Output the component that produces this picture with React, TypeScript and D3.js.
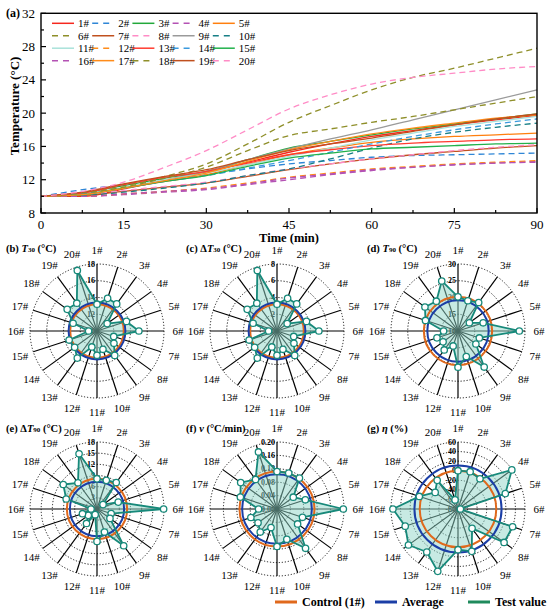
import React from "react";
import * as d3 from "d3";

// time axis of panel (a), minutes
const times = [0, 7.5, 15, 22.5, 30, 37.5, 45, 52.5, 60, 67.5, 75, 82.5, 90];

// temperature curves (°C), one per sample
const s1 = [10.0, 10.0, 10.9, 11.9, 12.9, 14.1, 15.3, 16.3, 17.2, 17.9, 18.6, 19.2, 19.7];
const s2 = [10.0, 10.8, 11.4, 12.0, 12.6, 13.3, 13.9, 14.3, 14.7, 14.9, 15.0, 15.1, 15.2];
const s3 = [10.0, 10.4, 11.3, 12.2, 13.0, 14.4, 15.8, 16.6, 17.4, 18.1, 18.7, 19.3, 19.9];
const s4 = [10.0, 10.0, 10.2, 10.5, 10.8, 11.4, 12.0, 12.6, 13.1, 13.5, 13.8, 14.0, 14.2];
const s5 = [10.0, 10.3, 11.0, 11.8, 12.6, 13.8, 15.0, 15.8, 16.5, 16.9, 17.2, 17.4, 17.6];
const s6 = [10.0, 10.4, 11.2, 12.4, 13.9, 16.3, 18.9, 20.9, 22.8, 24.3, 25.4, 26.6, 27.8];
const s7 = [10.0, 10.1, 10.6, 11.1, 11.6, 12.4, 13.2, 13.9, 14.5, 15.0, 15.4, 15.8, 16.1];
const s8 = [10.0, 10.2, 10.7, 11.2, 11.7, 12.5, 13.3, 13.9, 14.5, 15.0, 15.5, 15.9, 16.2];
const s9 = [10.0, 10.3, 11.0, 12.0, 13.0, 14.4, 15.7, 16.9, 18.0, 19.2, 20.4, 21.6, 22.8];
const s10 = [10.0, 10.1, 10.5, 11.0, 11.6, 12.5, 13.3, 14.5, 15.8, 16.9, 17.7, 18.3, 18.8];
const s11 = [10.0, 10.3, 11.1, 12.0, 12.8, 13.8, 14.8, 15.8, 16.8, 17.6, 18.4, 19.0, 19.6];
const s12 = [10.0, 10.0, 10.3, 10.6, 11.0, 11.6, 12.3, 12.8, 13.3, 13.6, 13.9, 14.1, 14.3];
const s13 = [10.0, 10.4, 11.4, 12.3, 13.0, 14.0, 15.0, 15.6, 16.1, 16.4, 16.6, 16.8, 16.9];
const s14 = [10.0, 10.3, 11.0, 11.8, 12.5, 13.4, 14.3, 15.3, 16.3, 17.2, 18.0, 18.7, 19.3];
const s15 = [10.0, 10.2, 11.0, 11.8, 12.5, 13.6, 14.6, 15.2, 15.7, 15.9, 16.1, 16.3, 16.4];
const s16 = [10.0, 10.0, 10.3, 10.6, 10.9, 11.5, 12.2, 12.7, 13.2, 13.5, 13.8, 14.0, 14.1];
const s17 = [10.0, 10.2, 11.0, 11.9, 12.8, 14.2, 15.6, 16.6, 17.5, 18.2, 18.8, 19.4, 19.8];
const s18 = [10.0, 10.4, 11.1, 12.2, 13.5, 15.5, 17.3, 18.1, 18.9, 19.6, 20.4, 21.2, 22.0];
const s19 = [10.0, 10.5, 11.5, 12.4, 13.2, 14.4, 15.5, 16.3, 17.0, 17.8, 18.6, 19.3, 19.9];
const s20 = [10.0, 10.6, 11.7, 13.5, 15.5, 18.0, 20.5, 22.2, 23.5, 24.3, 24.8, 25.3, 25.6];
const series = [s1, s2, s3, s4, s5, s6, s7, s8, s9, s10, s11, s12, s13, s14, s15, s16, s17, s18, s19, s20];

const samples = ["1#", "2#", "3#", "4#", "5#", "6#", "7#", "8#", "9#", "10#",
  "11#", "12#", "13#", "14#", "15#", "16#", "17#", "18#", "19#", "20#"];

const lineColors = ["#f5281e", "#2f86d6", "#22a83a", "#b452b4", "#ff7f0e", "#8f8f2a", "#c0501e", "#ff8cc6", "#9a9a9a", "#177f86",
  "#a9e2da", "#ff8c1a", "#ff3b2f", "#3a9ade", "#22b14c", "#b452b4", "#ff8c1a", "#8f8f2a", "#c0501e", "#ff8cc6"];
const lineDashed = [false, true, false, true, false, true, false, true, false, true,
  false, true, false, true, false, true, false, true, false, true];

// radar panels
const t30 = [13.2, 14.1, 14.0, 11.5, 13.7, 15.0, 12.1, 12.5, 13.6, 12.3, 12.9, 12.0, 14.0, 13.3, 13.5, 11.0, 13.0, 14.4, 14.1, 17.6];
const dT30 = [3.2, 4.1, 4.0, 1.5, 3.7, 5.0, 2.1, 2.5, 3.6, 2.3, 2.9, 2.0, 4.0, 3.3, 3.5, 1.0, 3.0, 4.4, 4.1, 7.6];
const t90 = [20.2, 19.5, 20.5, 14.2, 17.9, 28.3, 16.7, 16.6, 23.3, 18.0, 20.8, 14.7, 17.0, 15.5, 16.6, 14.3, 20.2, 22.2, 21.0, 25.7];
const dT90 = [8.1, 8.1, 8.8, 2.0, 6.0, 17.9, 4.0, 4.3, 12.2, 6.5, 8.7, 1.6, 4.8, 2.9, 4.1, 1.6, 8.7, 11.2, 8.7, 15.6];
const rate = [0.112, 0.113, 0.114, 0.06, 0.089, 0.198, 0.08, 0.076, 0.145, 0.095, 0.112, 0.058, 0.085, 0.07, 0.082, 0.055, 0.115, 0.134, 0.109, 0.179];
const eta = [0, 2, -2, 59, 24, -75, 40, 39, -30, 13, 5, 57, 31, 48, 36, 56, 5, -21, -6, -60];

const ticksT30 = [10, 12, 14, 16, 18];
const ticksDT30 = [0, 2, 4, 6, 8];
const ticksT90 = [10, 15, 20, 25, 30];
const ticksDT90 = [0, 3, 6, 9, 12, 15, 18];
const ticksRate = [0, 0.04, 0.08, 0.12, 0.16, 0.2];
const ticksEta = [-80, -60, -40, -20, 0, 20, 40, 60];

const FONT = "'Liberation Serif', 'Times New Roman', serif";
const ORANGE = "#e0691c";
const BLUE = "#1b3ea6";
const TEAL = "#17897a";

const R = 67;

function Radar({ cx, cy, values, ticks, fmt }: { cx: number; cy: number; values: number[]; ticks: number[]; fmt: (v: number) => string }) {
  const r = d3.scaleLinear().domain([ticks[0], ticks[ticks.length - 1]]).range([0, R]);
  const step = (2 * Math.PI) / values.length;
  const poly = d3
    .lineRadial<number>()
    .angle((_, i) => i * step)
    .radius((d) => r(d))
    .curve(d3.curveLinearClosed);
  const pt = (i: number, rad: number) => [cx + rad * Math.sin(i * step), cy - rad * Math.cos(i * step)];
  const avg = d3.mean(values) as number;
  return (
    <g>
      {ticks.slice(1).map((t) => (
        <circle key={t} cx={cx} cy={cy} r={r(t)} fill="none" stroke="#000" strokeWidth={0.9} strokeDasharray="1.2,1.8" />
      ))}
      {values.map((_, i) => {
        const [x2, y2] = pt(i, R);
        return <line key={i} x1={cx} y1={cy} x2={x2} y2={y2} stroke="#000" strokeWidth={1.2} />;
      })}
      {ticks.map((t) => (
        <text key={t} x={cx - 2} y={cy - r(t)} textAnchor="end" dominantBaseline="central" fontSize={8} fontWeight="bold" fontFamily={FONT}>
          {fmt(t)}
        </text>
      ))}
      <path d={poly(values) as string} transform={`translate(${cx},${cy})`} fill="#8fd6c8" fillOpacity={0.5} stroke="none" />
      <circle cx={cx} cy={cy} r={r(values[0])} fill="none" stroke={ORANGE} strokeWidth={2} />
      <circle cx={cx} cy={cy} r={r(avg)} fill="none" stroke={BLUE} strokeWidth={2} />
      <path d={poly(values) as string} transform={`translate(${cx},${cy})`} fill="none" stroke={TEAL} strokeWidth={1.8} strokeLinejoin="round" />
      {values.map((v, i) => {
        const [px, py] = pt(i, r(v));
        return <circle key={i} cx={px} cy={py} r={3.2} fill="#fff" stroke={TEAL} strokeWidth={1.3} />;
      })}
      {samples.map((s, i) => {
        const [lx, ly] = pt(i, 81);
        return (
          <text key={s} x={lx} y={ly} textAnchor="middle" dominantBaseline="central" fontSize={11} fontFamily={FONT}>
            {s}
          </text>
        );
      })}
    </g>
  );
}

function PanelLabel({ x, y, tag, pre, sym, sub, unit }: { x: number; y: number; tag: string; pre?: string; sym: string; sub?: string; unit: string }) {
  return (
    <text x={x} y={y} fontSize={10.5} fontWeight="bold" fontFamily={FONT} dominantBaseline="central">
      {tag} {pre}
      <tspan fontStyle="italic">{sym}</tspan>
      {sub ? (
        <>
          <tspan fontSize={7} dy={2}>{sub}</tspan>
          <tspan dy={-2}> {unit}</tspan>
        </>
      ) : (
        <tspan> {unit}</tspan>
      )}
    </text>
  );
}

export default function App() {
  const left = 41, right = 537, top = 13.3, bottom = 213;
  const x = d3.scaleLinear().domain([0, 90]).range([left, right]);
  const y = d3.scaleLinear().domain([8, 32]).range([bottom, top]);
  const line = d3
    .line<number>()
    .x((_, i) => x(times[i]))
    .y((d) => y(d))
    .curve(d3.curveMonotoneX);

  const xMajor = d3.range(0, 91, 15);
  const xMinor = d3.range(7.5, 90, 15);
  const yMajor = d3.range(8, 33, 4);
  const yMinor = d3.range(10, 32, 4);

  const cols = [97, 277, 458];
  const rows = [331, 509];

  return (
    <div style={{ position: "absolute", left: 0, top: 0 }}>
      <svg width={550} height={612} style={{ display: "block", background: "#fff" }}>
        {/* panel (a) */}
        {series.map((s, i) => (
          <path key={i} d={line(s) as string} fill="none" stroke={lineColors[i]} strokeWidth={1.3} strokeDasharray={lineDashed[i] ? "6,4" : undefined} />
        ))}
        <rect x={left} y={top} width={right - left} height={bottom - top} fill="none" stroke="#000" strokeWidth={1.4} />
        {xMajor.map((t) => (
          <g key={t}>
            <line x1={x(t)} x2={x(t)} y1={bottom} y2={bottom - 5} stroke="#000" strokeWidth={1.2} />
            <text x={x(t)} y={224} textAnchor="middle" dominantBaseline="central" fontSize={13} fontFamily={FONT}>{t}</text>
          </g>
        ))}
        {xMinor.map((t) => (
          <line key={t} x1={x(t)} x2={x(t)} y1={bottom} y2={bottom - 3} stroke="#000" strokeWidth={1.2} />
        ))}
        {yMajor.map((v) => (
          <g key={v}>
            <line x1={left} x2={left + 5} y1={y(v)} y2={y(v)} stroke="#000" strokeWidth={1.2} />
            <text x={35} y={y(v)} textAnchor="end" dominantBaseline="central" fontSize={13} fontFamily={FONT}>{v}</text>
          </g>
        ))}
        {yMinor.map((v) => (
          <line key={v} x1={left} x2={left + 3} y1={y(v)} y2={y(v)} stroke="#000" strokeWidth={1.2} />
        ))}
        <text x={6} y={13} dominantBaseline="central" fontSize={12} fontWeight="bold" fontFamily={FONT}>(a)</text>
        <text transform="translate(14,106) rotate(-90)" textAnchor="middle" dominantBaseline="central" fontSize={13} fontWeight="bold" fontFamily={FONT}>
          Temperature (°C)
        </text>
        <text x={(left + right) / 2} y={238} textAnchor="middle" dominantBaseline="central" fontSize={12.5} fontWeight="bold" fontFamily={FONT}>
          Time (min)
        </text>
        {samples.map((s, i) => {
          const lx = 52 + (i % 5) * 40.2;
          const ly = 23.3 + Math.floor(i / 5) * 12.45;
          return (
            <g key={s}>
              <line x1={lx} x2={lx + 22} y1={ly} y2={ly} stroke={lineColors[i]} strokeWidth={1.5} strokeDasharray={lineDashed[i] ? "6,5" : undefined} />
              <text x={lx + 26} y={ly} dominantBaseline="central" fontSize={11} fontFamily={FONT}>{s}</text>
            </g>
          );
        })}

        {/* radar panels */}
        <Radar cx={cols[0]} cy={rows[0]} values={t30} ticks={ticksT30} fmt={(v) => `${v}`} />
        <Radar cx={cols[1]} cy={rows[0]} values={dT30} ticks={ticksDT30} fmt={(v) => `${v}`} />
        <Radar cx={cols[2]} cy={rows[0]} values={t90} ticks={ticksT90} fmt={(v) => `${v}`} />
        <Radar cx={cols[0]} cy={rows[1]} values={dT90} ticks={ticksDT90} fmt={(v) => `${v}`} />
        <Radar cx={cols[1]} cy={rows[1]} values={rate} ticks={ticksRate} fmt={d3.format(".2f")} />
        <Radar cx={cols[2]} cy={rows[1]} values={eta} ticks={ticksEta} fmt={(v) => `${v}`} />

        <PanelLabel x={6} y={248} tag="(b)" sym="T" sub="30" unit="(°C)" />
        <PanelLabel x={186} y={248} tag="(c)" pre="Δ" sym="T" sub="30" unit="(°C)" />
        <PanelLabel x={367} y={248} tag="(d)" sym="T" sub="90" unit="(°C)" />
        <PanelLabel x={6} y={428} tag="(e)" pre="Δ" sym="T" sub="90" unit="(°C)" />
        <PanelLabel x={186} y={428} tag="(f)" sym="v" unit="(°C/min)" />
        <PanelLabel x={367} y={428} tag="(g)" sym="η" unit="(%)" />

        {/* bottom legend */}
        {[
          { c: ORANGE, t: "Control (1#)", x0: 275 },
          { c: BLUE, t: "Average", x0: 375 },
          { c: "#1f8a5c", t: "Test value", x0: 468 },
        ].map((d) => (
          <g key={d.t}>
            <line x1={d.x0} x2={d.x0 + 22} y1={602} y2={602} stroke={d.c} strokeWidth={3} />
            <text x={d.x0 + 27} y={602} dominantBaseline="central" fontSize={12} fontWeight="bold" fontFamily={FONT}>{d.t}</text>
          </g>
        ))}
      </svg>
    </div>
  );
}
